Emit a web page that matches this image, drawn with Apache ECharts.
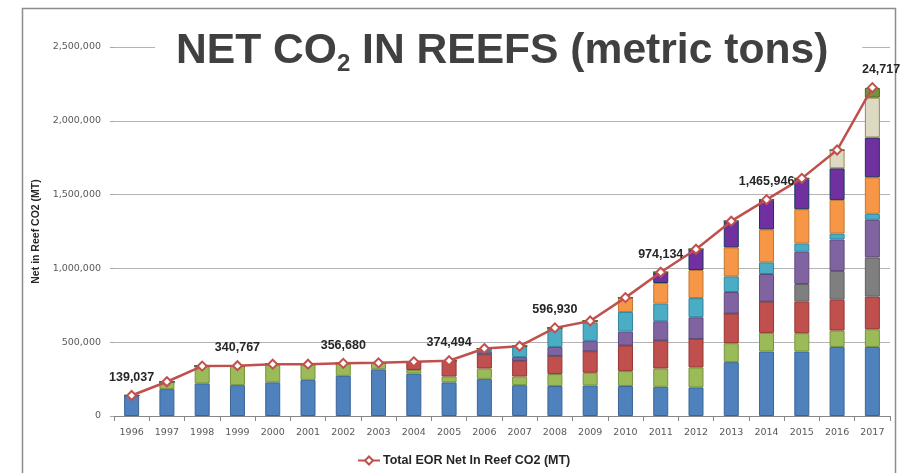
<!DOCTYPE html>
<html>
<head>
<meta charset="utf-8">
<style>
  html, body { margin: 0; padding: 0; background: #fff; }
  #chartArea { width: 905px; height: 473px; }
</style>
<script src="https://cdn.jsdelivr.net/npm/echarts@6/dist/echarts.min.js"></script>
</head>
<body>
<div id="chartArea"></div>
<script>
// 数据
const years = ['1996', '1997', '1998', '1999', '2000', '2001', '2002', '2003', '2004', '2005', '2006',
    '2007', '2008', '2009', '2010', '2011', '2012', '2013', '2014', '2015', '2016', '2017'];

const blueVals = [139037, 182000, 221000, 209000, 228000, 245000, 272000, 316000, 288000, 228000, 252000,
    209000, 203000, 207000, 203000, 198000, 194000, 365000, 437000, 437000, 468000, 468000];
const greenVals = [0, 50000, 117000, 132000, 123000, 106000, 85000, 44000, 24000, 40000, 70000,
    59000, 81000, 86000, 101000, 124000, 135000, 128000, 126000, 124000, 111000, 120000];
const redVals = [0, 0, 0, 0, 0, 0, 0, 0, 55000, 106000, 97000,
    106000, 123000, 146000, 174000, 189000, 193000, 201000, 212000, 214000, 209000, 221000];
const grayVals = [0, 0, 0, 0, 0, 0, 0, 0, 0, 0, 0,
    0, 0, 0, 0, 0, 0, 0, 0, 119000, 194000, 265000];
const purpleVals = [0, 0, 0, 0, 0, 0, 0, 0, 0, 0, 20000,
    25000, 61000, 70000, 94000, 131000, 147000, 146000, 187000, 219000, 214000, 255000];
const tealVals = [0, 0, 0, 0, 0, 0, 0, 0, 0, 0, 18000,
    74000, 129000, 124000, 133000, 119000, 130000, 106000, 79000, 56000, 40000, 41000];
const orangeVals = [0, 0, 0, 0, 0, 0, 0, 0, 0, 0, 0,
    0, 0, 11000, 97000, 140000, 190000, 196000, 223000, 232000, 228000, 247000];
const darkPurpleVals = [0, 0, 0, 0, 0, 0, 0, 0, 0, 0, 0,
    0, 0, 0, 0, 73000, 141000, 178000, 202000, 205000, 214000, 270000];
const beigeVals = [0, 0, 0, 0, 0, 0, 0, 0, 0, 0, 0,
    0, 0, 0, 0, 0, 0, 0, 0, 4000, 124000, 270000];
const darkGreenVals = [0, 0, 0, 0, 0, 0, 0, 0, 0, 0, 0,
    0, 0, 0, 0, 0, 0, 0, 0, 0, 0, 66000];

const totalVals = [139037, 232000, 338000, 340767, 351000, 351000, 356680, 360000, 367000, 374494, 457000,
    473000, 596930, 644000, 802000, 974134, 1130000, 1320000, 1465946, 1610000, 1802000, 2224717];

// 堆叠柱的颜色 [填充, 边框]
const segments = [
    { name: 'blue', data: blueVals, color: '#4F81BD', border: '#3B6496' },
    { name: 'green', data: greenVals, color: '#9BBB59', border: '#76923C' },
    { name: 'red', data: redVals, color: '#C0504D', border: '#943634' },
    { name: 'gray', data: grayVals, color: '#7F7F7F', border: '#5F5F5F' },
    { name: 'purple', data: purpleVals, color: '#8064A2', border: '#5F497A' },
    { name: 'teal', data: tealVals, color: '#4BACC6', border: '#31859C' },
    { name: 'orange', data: orangeVals, color: '#F79646', border: '#C0772F' },
    { name: 'darkPurple', data: darkPurpleVals, color: '#7030A0', border: '#17375E' },
    { name: 'beige', data: beigeVals, color: '#DDD9C3', border: '#948A54' },
    { name: 'darkGreen', data: darkGreenVals, color: '#76923C', border: '#4F6228' }
];

const chartDom = document.getElementById('chartArea');
const myChart = echarts.init(chartDom);

const barSeries = segments.map(seg => ({
    name: seg.name,
    type: 'bar',
    stack: 'total',
    barWidth: 15,
    data: seg.data,
    itemStyle: { color: seg.color, borderColor: seg.border, borderWidth: 1 },
    emphasis: { disabled: true }
}));

const option = {
    animation: false,
    textStyle: { fontFamily: 'DejaVu Sans' },
    title: {
        text: 'NET CO{sub|2} IN REEFS (metric tons)',
        left: 155,
        top: 18,
        padding: [8, 34, 10, 21],
        backgroundColor: '#fff',
        textStyle: {
            fontFamily: 'Liberation Sans',
            fontWeight: 'bold',
            fontSize: 42.6,
            lineHeight: 50,
            color: '#404040',
            rich: {
                sub: {
                    fontFamily: 'Liberation Sans',
                    fontWeight: 'bold',
                    fontSize: 24,
                    lineHeight: 24,
                    verticalAlign: 'bottom',
                    color: '#404040'
                }
            }
        }
    },
    graphic: [{
        type: 'rect',
        left: 20,
        top: 6,
        shape: { width: 873, height: 500 },
        style: { fill: 'none', stroke: '#8C8C8C', lineWidth: 1.5 },
        silent: true
    }],
    legend: {
        data: ['Total EOR Net In Reef CO2 (MT)'],
        left: 352,
        top: 449,
        itemWidth: 22,
        itemHeight: 10,
        itemGap: 4,
        textStyle: {
            fontFamily: 'Liberation Sans',
            fontWeight: 'bold',
            fontSize: 12.5,
            padding: [0, 0, 0, -2],
            color: '#262626'
        }
    },
    grid: { left: 114, right: 15, top: 47, bottom: 57, containLabel: false },
    xAxis: {
        type: 'category',
        data: years,
        axisLine: { lineStyle: { color: '#868686', width: 1 } },
        axisTick: { show: true, alignWithLabel: false, length: 5, lineStyle: { color: '#868686' } },
        axisLabel: { color: '#595959', fontSize: 9.5, margin: 12 }
    },
    yAxis: {
        type: 'value',
        min: 0,
        max: 2500000,
        interval: 500000,
        name: 'Net in Reef CO2 (MT)',
        nameLocation: 'middle',
        nameGap: 62,
        nameTextStyle: { fontFamily: 'Liberation Sans', fontWeight: 'bold', fontSize: 10.5, color: '#262626' },
        axisLine: { show: false },
        axisTick: { show: true, length: 4, lineStyle: { color: '#A6A6A6' } },
        splitLine: { lineStyle: { color: '#B3B3B3', width: 1 } },
        axisLabel: {
            color: '#595959',
            fontSize: 9.5,
            margin: 13,
            formatter: v => v.toLocaleString('en-US')
        }
    },
    series: [
        ...barSeries,
        {
            name: 'Total EOR Net In Reef CO2 (MT)',
            type: 'line',
            data: totalVals,
            z: 5,
            symbol: 'diamond',
            symbolSize: 9,
            lineStyle: { color: '#C0504D', width: 2.5 },
            itemStyle: { color: '#fff', borderColor: '#C0504D', borderWidth: 2 },
            label: {
                show: true,
                position: 'top',
                distance: 6,
                fontFamily: 'Liberation Sans',
                fontWeight: 'bold',
                fontSize: 12.5,
                color: '#262626',
                formatter: p => (p.dataIndex % 3 === 0 ? p.value.toLocaleString('en-US') : '')
            },
            emphasis: { disabled: true }
        }
    ]
};

myChart.setOption(option);

window.addEventListener('resize', () => {
    myChart.resize();
});
</script>
</body>
</html>
